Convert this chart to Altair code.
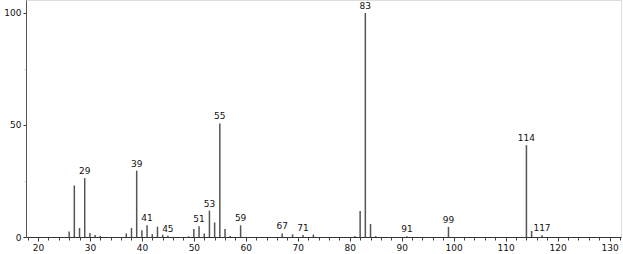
import altair as alt
import pandas as pd

mz = [26, 27, 28, 29, 30, 31, 32, 37, 38, 39, 40, 41, 42, 43, 44, 45, 49, 50, 51, 52,
      53, 54, 55, 56, 57, 59, 67, 69, 71, 73, 81, 82, 83, 84, 85, 91, 99, 114, 115, 117]
intensity = [2.4, 23.0, 4.0, 26.3, 1.8, 0.9, 0.5, 1.6, 4.0, 29.6, 3.0, 5.2, 1.3, 4.6, 1.0, 0.6, 0.3, 3.6, 4.8, 1.6,
             11.8, 6.5, 50.7, 3.6, 0.5, 5.2, 1.6, 1.2, 0.9, 1.1, 0.5, 11.6, 100.0, 5.8, 0.4, 0.3, 4.5, 41.0, 2.7, 0.8]
label_mz = [29, 39, 41, 45, 51, 53, 55, 59, 67, 71, 83, 91, 99, 114, 117]
major_ticks = list(range(20, 131, 10))
minor_ticks = list(range(18, 133, 2))

df = pd.DataFrame({"mz": mz, "intensity": intensity})
lab = df[df["mz"].isin(label_mz)].copy()
lab["text"] = lab["mz"].astype(str)

xscale = alt.Scale(domain=[17.7, 132.2], nice=False, zero=False)
yscale = alt.Scale(domain=[0, 105.8], nice=False)

xaxis = alt.Axis(
    values=major_ticks, orient="bottom",
    tickSize=4, tickColor="#333", domainColor="#333", labelFont="DejaVu Sans",
    labelFontSize=9, labelColor="#111", labelPadding=2, grid=False, title=None,
    labelFlush=False, labelOverlap=False,
)
xaxis_minor = alt.Axis(
    values=minor_ticks, orient="bottom", labels=False, domain=False,
    tickSize=3, tickColor="#444", grid=False, title=None,
)
yaxis = alt.Axis(
    values=[0, 25, 50, 75, 100],
    labelExpr="datum.value % 50 == 0 ? datum.value : ''",
    tickSize=3, labelOverlap=False,
    tickColor={"condition": {"test": "datum.value % 50 == 0", "value": "#333"}, "value": "#e4e4e4"},
    domainColor="#555", labelFont="DejaVu Sans", labelFontSize=9, labelColor="#111",
    labelPadding=2, grid=False, title=None,
)

bars = alt.Chart(df).mark_rule(color="#555", strokeWidth=1.5).encode(
    x=alt.X("mz:Q", scale=xscale, axis=xaxis),
    y=alt.Y("intensity:Q", scale=yscale, axis=yaxis),
    y2=alt.datum(0),
)

text = alt.Chart(lab).mark_text(
    baseline="bottom", dy=-2, font="DejaVu Sans", fontSize=9, color="#111"
).encode(
    x=alt.X("mz:Q", scale=xscale, axis=xaxis_minor),
    y=alt.Y("intensity:Q", scale=yscale),
    text="text:N",
)

chart = (bars + text).resolve_axis(x="independent").properties(
    width=595, height=237,
    autosize=alt.AutoSizeParams(type="none"),
    padding={"left": 26, "top": 0, "right": 2, "bottom": 17},
).configure_view(stroke=None).configure(background="white")

chart.save("out.html", embed_options={"renderer": "svg", "actions": False})
